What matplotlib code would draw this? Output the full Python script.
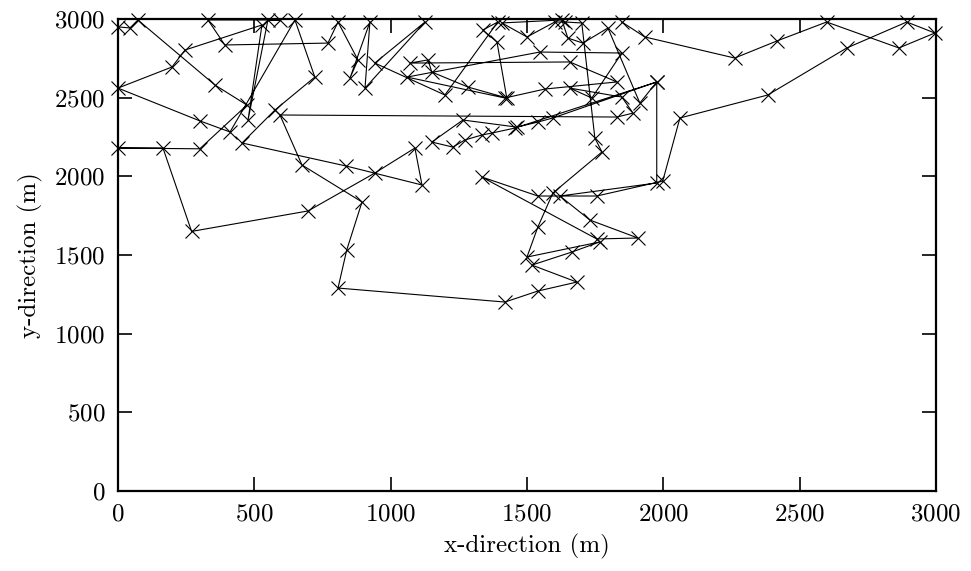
import matplotlib
matplotlib.use("Agg")
import matplotlib.pyplot as plt

plt.rcParams['font.family'] = ['cmr10', 'DejaVu Serif']
plt.rcParams['axes.formatter.use_mathtext'] = True

# walk positions (m), in path order
x_pos = [0, 44, 73, 356, 473, 300, 0, 165, 270, 697, 942, 1089, 1115, 836,
         455, 576, 722, 649, 411, 301, 0, 198, 246, 528, 477, 550, 594, 330,
         392, 770, 807, 880, 851, 924, 906, 1126, 942, 1199, 1393, 1338, 1390,
         1426, 1283, 1151, 1137, 1071, 1657, 1830, 1566, 1419, 1060, 1547,
         1848, 1738, 1657, 1848, 1889, 1830, 594, 675, 895, 839, 807, 1419,
         1540, 1683, 1518, 1665, 1767, 1500, 1540, 1595, 1775, 1749, 1701,
         1639, 1602, 1500, 1408, 1628, 1650, 1705, 1797, 1914, 1976, 1456,
         1371, 1335, 1272, 1228, 1151, 1265, 1463, 1540, 1595, 1976, 1976,
         1621, 1731, 1907, 1756, 1334, 1540, 1756, 1998, 2061, 2383, 2673,
         2893, 2996, 2864, 2599, 2416, 2262, 1932, 1848]
y_pos = [2950, 2943, 2994, 2580, 2453, 2175, 2180, 2180, 1650, 1780, 2021,
         2180, 1945, 2066, 2212, 2422, 2631, 2994, 2282, 2352, 2561, 2695,
         2803, 2962, 2358, 2994, 2994, 2994, 2835, 2847, 2981, 2740, 2625,
         2981, 2561, 2981, 2720, 2517, 2981, 2930, 2854, 2498, 2568, 2663,
         2740, 2720, 2727, 2600, 2555, 2498, 2631, 2790, 2784, 2498, 2561,
         2504, 2402, 2377, 2390, 2072, 1837, 1532, 1290, 1201, 1271, 1328,
         1436, 1519, 1583, 1487, 1678, 1894, 2155, 2244, 2975, 2981, 2981,
         2886, 2975, 2994, 2879, 2847, 2943, 2466, 2600, 2307, 2275, 2263,
         2231, 2186, 2218, 2358, 2313, 2345, 2371, 2600, 1958, 1875, 1722,
         1608, 1602, 1996, 1875, 1875, 1970, 2371, 2517, 2816, 2981, 2911,
         2816, 2981, 2860, 2752, 2886, 2981]

fig = plt.figure(figsize=(9.71, 5.71), dpi=100)
ax = fig.add_axes([0.1215, 0.1401, 0.8424, 0.8266])

ax.plot(x_pos, y_pos, color='black', linewidth=0.8, marker='x',
        markersize=10, markeredgewidth=0.8, clip_on=False)

ax.set_xlim(0, 3000)
ax.set_ylim(0, 3000)
ax.set_xticks(range(0, 3001, 500))
ax.set_yticks(range(0, 3001, 500))
ax.tick_params(direction='in', length=10, width=1.2, top=True, right=True,
               labelsize=18, pad=9)
for s in ax.spines.values():
    s.set_linewidth(1.6)

ax.set_xlabel('x-direction (m)', fontsize=18, labelpad=6)
ax.set_ylabel('y-direction (m)', fontsize=18, labelpad=8)

fig.savefig('out.png', dpi=100)
